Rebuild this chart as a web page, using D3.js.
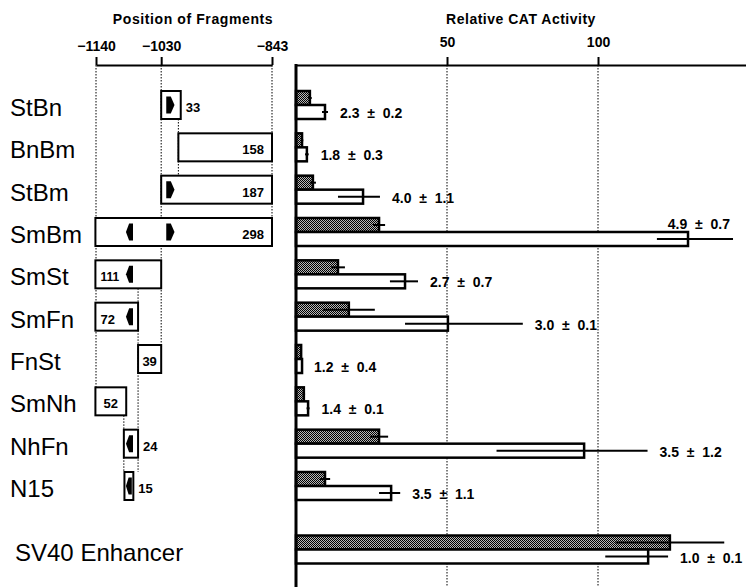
<!DOCTYPE html>
<html>
<head>
<meta charset="utf-8">
<script src="https://cdn.jsdelivr.net/npm/d3@7"></script>
<style>
  body { margin: 0; background: #fff; }
  svg { display: block; font-family: "Liberation Sans", Arial, sans-serif; }
</style>
</head>
<body>
<div id="chart"></div>
<script>
// Fragments, top to bottom (SV40 enhancer is the control, no fragment box)
const fragments = ["StBn", "BnBm", "StBm", "SmBm", "SmSt", "SmFn", "FnSt", "SmNh", "NhFn", "N15", "SV40 Enhancer"];
const fragStart = [-1030, -1001, -1030, -1141, -1141, -1141, -1069, -1141, -1093, -1092, null];
const fragLength = [33, 158, 187, 298, 111, 72, 39, 52, 24, 15, null];

// Sequence elements (black arrows) and the fragments that carry them
const siteFrom = [-1024, -1092];
const siteTo = [-1005, -1075];
const siteDir = [1, -1];
const siteRows = [[0, 2, 3], [3, 4, 5, 8, 9]];

// Position axis ticks and dotted guide lines (-1 = from the axis)
const posTicks = [-1140, -1030, -843];
const guidePos = [-1140, -1030, -843, -1001, -1069, -1093];
const guideFrom = [-1, -1, -1, 0, 4, 7];
const guideTo = [7, 6, 3, 2, 9, 9];

// Relative CAT activity: shaded = basal, open = induced
const shadedValues = [4.6, 2.0, 5.6, 27.5, 13.9, 17.5, 1.7, 2.6, 27.5, 9.6, 123.8];
const shadedErr = [0.6, 0.4, 1.0, 2.0, 2.3, 8.6, 0, 0.4, 3.0, 1.7, 18];
const whiteValues = [9.6, 3.6, 22.2, 129.8, 36.1, 50.3, 2.0, 4.0, 95.4, 31.5, 116.6];
const whiteErrLow = [1, 0.6, 8.3, 10.3, 5, 14.2, 0, 0.5, 29, 4, 14.2];
const whiteErrHigh = [1, 0.6, 5.6, 14.9, 4.3, 24.8, 0, 0.5, 21, 3, 6.6];
const fold = [2.3, 1.8, 4.0, 4.9, 2.7, 3.0, 1.2, 1.4, 3.5, 3.5, 1.0];
const foldErr = [0.2, 0.3, 1.1, 0.7, 0.7, 0.1, 0.4, 0.1, 1.2, 1.1, 0.1];
const activityTicks = [50, 100];

const width = 746, height = 587;
const axisY = 65;
const boxH = 28, barH = 14;

const svg = d3.select("#chart").append("svg")
  .attr("width", width)
  .attr("height", height);

// stipple for the shaded bars
const pat = svg.append("defs").append("pattern")
  .attr("id", "stipple")
  .attr("width", 2).attr("height", 2)
  .attr("patternUnits", "userSpaceOnUse");
pat.append("rect").attr("width", 2).attr("height", 2).attr("fill", "#b8b8b8");
pat.append("rect").attr("width", 1).attr("height", 1).attr("fill", "#000");
pat.append("rect").attr("x", 1).attr("y", 1).attr("width", 1).attr("height", 1).attr("fill", "#000");

// scales
const xPos = d3.scaleLinear().domain([-1140, -843]).range([96, 272]);
const xAct = d3.scaleLinear().domain([0, 149]).range([296, 746]);
const rowY = d3.scaleLinear().domain([0, 9]).range([105, 486]);
// the control row sits after an extra half-row gap
const slot = i => fragStart[i] == null ? i + 0.5 : i;
const yc = i => rowY(slot(i));

// titles
svg.append("text")
  .attr("x", 193).attr("y", 24)
  .attr("text-anchor", "middle")
  .attr("font-size", 14).attr("font-weight", "bold")
  .attr("letter-spacing", 0.6)
  .text("Position of Fragments");

svg.append("text")
  .attr("x", 521).attr("y", 24)
  .attr("text-anchor", "middle")
  .attr("font-size", 14).attr("font-weight", "bold")
  .attr("letter-spacing", 0.5)
  .text("Relative CAT Activity");

// === Left panel: fragment map ===
const posAxis = svg.append("g")
  .attr("transform", `translate(0,${axisY})`)
  .call(d3.axisTop(xPos)
    .tickValues(posTicks)
    .tickSize(8)
    .tickSizeOuter(0)
    .tickFormat(d => "\u2212" + Math.abs(d)));
posAxis.select(".domain").attr("stroke-width", 2);
posAxis.selectAll(".tick line").attr("stroke-width", 2);
posAxis.selectAll(".tick text")
  .attr("font-size", 14).attr("font-weight", "bold")
  .attr("font-family", "Liberation Sans, Arial, sans-serif")
  .attr("dy", "-0.25em");

// dotted guides
svg.append("g").selectAll("line")
  .data(guidePos)
  .enter()
  .append("line")
  .attr("x1", d => xPos(d))
  .attr("x2", d => xPos(d))
  .attr("y1", (d, i) => guideFrom[i] < 0 ? axisY : yc(guideFrom[i]) + boxH / 2)
  .attr("y2", (d, i) => yc(guideTo[i]) - boxH / 2)
  .attr("stroke", "#000")
  .attr("stroke-width", 1)
  .attr("stroke-dasharray", "1.5,1.5");

// row labels
svg.append("g").selectAll("text")
  .data(fragments)
  .enter()
  .append("text")
  .attr("x", (d, i) => fragStart[i] == null ? 15 : 10)
  .attr("y", (d, i) => yc(i) + 11)
  .attr("font-size", 24)
  .text(d => d);

const rows = fragments.map((d, i) => i).filter(i => fragStart[i] != null);

// fragment boxes
svg.append("g").selectAll("rect")
  .data(rows)
  .enter()
  .append("rect")
  .attr("x", i => xPos(fragStart[i]))
  .attr("y", i => yc(i) - boxH / 2)
  .attr("width", i => xPos(fragStart[i] + fragLength[i]) - xPos(fragStart[i]))
  .attr("height", boxH)
  .attr("fill", "#fff")
  .attr("stroke", "#000")
  .attr("stroke-width", 2);

// arrows
const arrows = [];
siteRows.forEach((rs, s) => rs.forEach(r => arrows.push({ s, r })));
svg.append("g").selectAll("path")
  .data(arrows)
  .enter()
  .append("path")
  .attr("d", a => {
    const lo = Math.max(siteFrom[a.s], fragStart[a.r]);
    const hi = Math.min(siteTo[a.s], fragStart[a.r] + fragLength[a.r]);
    const x0 = xPos(lo) + 1.5, x1 = xPos(hi) - 1.5;
    const y = yc(a.r), h = 17, w = x1 - x0;
    if (siteDir[a.s] > 0) {
      return `M${x0},${y - h / 2}L${x0 + w * 0.55},${y - h / 2}L${x1},${y}L${x0 + w * 0.55},${y + h / 2}L${x0},${y + h / 2}Z`;
    }
    return `M${x1},${y - h / 2}L${x1 - w * 0.55},${y - h / 2}L${x0},${y}L${x1 - w * 0.55},${y + h / 2}L${x1},${y + h / 2}Z`;
  })
  .attr("fill", "#000");

// fragment length labels
svg.append("g").selectAll("text")
  .data(rows)
  .enter()
  .append("text")
  .attr("font-size", i => fragLength[i] > 99 && fragLength[i] < 150 ? 12 : 13)
  .attr("font-weight", "bold")
  .each(function (i) {
    const x0 = xPos(fragStart[i]);
    const x1 = xPos(fragStart[i] + fragLength[i]);
    const w = x1 - x0;
    const hasArrow = siteRows.some(rs => rs.includes(i));
    const t = d3.select(this).attr("y", yc(i) + 7);
    if (w < 22) t.attr("x", x1 + 5).attr("text-anchor", "start");
    else if (w > 80) t.attr("x", x1 - 8).attr("text-anchor", "end");
    else if (hasArrow) t.attr("x", x0 + 5).attr("text-anchor", "start");
    else t.attr("x", (x0 + x1) / 2).attr("text-anchor", "middle");
  })
  .text(i => fragLength[i]);

// === Right panel: CAT activity ===
const actAxis = svg.append("g")
  .attr("transform", `translate(0,${axisY})`)
  .call(d3.axisTop(xAct)
    .tickValues(activityTicks)
    .tickSize(8)
    .tickSizeOuter(0));
actAxis.select(".domain").attr("stroke-width", 2);
actAxis.selectAll(".tick line").attr("stroke-width", 2);
actAxis.selectAll(".tick text")
  .attr("font-size", 14).attr("font-weight", "bold")
  .attr("font-family", "Liberation Sans, Arial, sans-serif")
  .attr("dy", "-0.5em");

// dotted gridlines
svg.append("g").selectAll("line")
  .data(activityTicks)
  .enter()
  .append("line")
  .attr("x1", d => xAct(d))
  .attr("x2", d => xAct(d))
  .attr("y1", axisY)
  .attr("y2", height)
  .attr("stroke", "#000")
  .attr("stroke-width", 1)
  .attr("stroke-dasharray", "1.5,1.5");

const allRows = fragments.map((d, i) => i);

// shaded bars
svg.append("g").selectAll("rect")
  .data(allRows)
  .enter()
  .append("rect")
  .attr("x", xAct(0))
  .attr("y", i => yc(i) - barH)
  .attr("width", i => xAct(shadedValues[i]) - xAct(0))
  .attr("height", barH)
  .attr("fill", "url(#stipple)")
  .attr("stroke", "#000")
  .attr("stroke-width", 2.5);

// open bars
svg.append("g").selectAll("rect")
  .data(allRows)
  .enter()
  .append("rect")
  .attr("x", xAct(0))
  .attr("y", i => yc(i))
  .attr("width", i => xAct(whiteValues[i]) - xAct(0))
  .attr("height", barH)
  .attr("fill", "#fff")
  .attr("stroke", "#000")
  .attr("stroke-width", 2.5);

// error bars
svg.append("g").selectAll("line")
  .data(allRows.filter(i => shadedErr[i] > 0))
  .enter()
  .append("line")
  .attr("x1", i => xAct(shadedValues[i] - shadedErr[i]))
  .attr("x2", i => xAct(shadedValues[i] + shadedErr[i]))
  .attr("y1", i => yc(i) - barH / 2)
  .attr("y2", i => yc(i) - barH / 2)
  .attr("stroke", "#000")
  .attr("stroke-width", 2);

svg.append("g").selectAll("line")
  .data(allRows.filter(i => whiteErrHigh[i] > 0))
  .enter()
  .append("line")
  .attr("x1", i => xAct(whiteValues[i] - whiteErrLow[i]))
  .attr("x2", i => xAct(whiteValues[i] + whiteErrHigh[i]))
  .attr("y1", i => yc(i) + barH / 2)
  .attr("y2", i => yc(i) + barH / 2)
  .attr("stroke", "#000")
  .attr("stroke-width", 2);

// vertical axis line
svg.append("line")
  .attr("x1", xAct(0)).attr("x2", xAct(0))
  .attr("y1", axisY - 1).attr("y2", height)
  .attr("stroke", "#000")
  .attr("stroke-width", 3);

// fold-induction labels, next to the open bar
svg.append("g").selectAll("text")
  .data(allRows)
  .enter()
  .append("text")
  .attr("font-size", 14)
  .attr("font-weight", "bold")
  .style("white-space", "pre")
  .each(function (i) {
    const end = Math.max(xAct(whiteValues[i] + whiteErrHigh[i]), xAct(whiteValues[i]));
    const t = d3.select(this);
    if (end + 12 + 64 > width) {
      // no room on the right: sit above the bar, right-aligned
      t.attr("x", end - 3).attr("y", yc(i) - barH / 2 + 4).attr("text-anchor", "end");
    } else {
      t.attr("x", end + 12).attr("y", yc(i) + barH / 2 + 6);
    }
  })
  .text(i => `${fold[i].toFixed(1)}  \u00b1  ${foldErr[i].toFixed(1)}`);
</script>
</body>
</html>
